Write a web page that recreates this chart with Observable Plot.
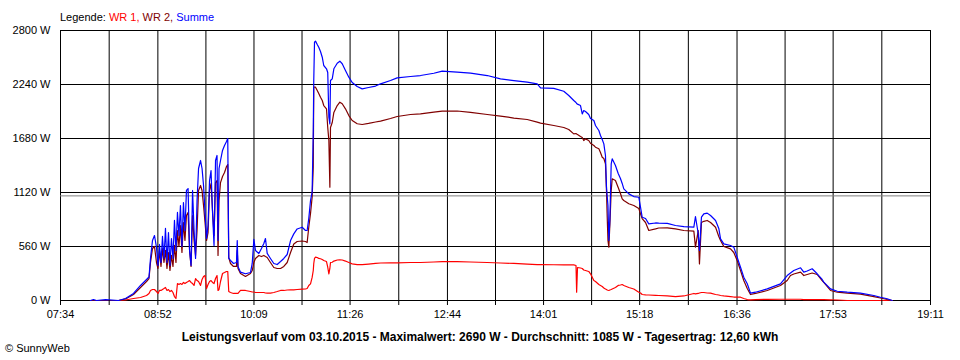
<!DOCTYPE html>
<html><head><meta charset="utf-8">
<script src="https://cdn.jsdelivr.net/npm/d3@7"></script>
<script src="https://cdn.jsdelivr.net/npm/@observablehq/plot@0.6"></script>
<style>
body{margin:0;background:#fff;}
#wrap{width:960px;height:360px;position:relative;overflow:hidden;font-family:Arial,"Liberation Sans",sans-serif;font-size:11px;color:#000;}
#legend{position:absolute;left:60px;top:11px;line-height:13px;white-space:nowrap;}
#chart{position:absolute;left:0;top:24px;}
#title{position:absolute;left:0;width:960px;text-align:center;top:330px;line-height:14px;font-size:12px;font-weight:bold;white-space:nowrap;}
#copy{position:absolute;left:5px;top:342px;line-height:13px;white-space:nowrap;}
</style></head><body>
<div id="wrap">
  <div id="legend"></div>
  <div id="chart"></div>
  <div id="title"></div>
  <div id="copy"></div>
</div>
<script>
const legendLabel = "Legende:";
const seriesNames = ["WR 1", "WR 2", "Summe"];
const seriesColors = ["#ff0000", "#800000", "#0000ff"];
const timeLabels = ["07:34","08:52","10:09","11:26","12:44","14:01","15:18","16:36","17:53","19:11"];
const yTicks = [0, 560, 1120, 1680, 2240, 2800];
const average = 1085;
const titleText = "Leistungsverlauf vom 03.10.2015 - Maximalwert: 2690 W - Durchschnitt: 1085 W - Tagesertrag: 12,60 kWh";
const copyText = "\u00a9 SunnyWeb";

// time in minutes since midnight
const times = [478.0,480.4,482.8,490.1,500.5,506.1,512.5,518.1,522.9,524.9,
526.1,527.7,529.3,530.9,532.1,533.3,534.5,535.7,536.9,538.1,
539.3,540.5,541.7,542.9,544.1,545.3,546.5,547.7,548.9,550.1,
551.3,552.5,553.7,554.9,556.2,557.4,558.6,559.8,561.0,562.2,
563.4,564.6,566.2,567.4,568.6,569.8,571.0,572.2,573.4,574.6,
575.8,577.0,578.2,579.4,580.2,581.0,582.2,583.8,585.4,587.0,
588.0,588.8,590.2,592.6,595.0,595.6,596.2,598.2,602.2,606.2,
607.6,608.9,610.2,612.9,615.0,616.9,618.2,619.6,622.2,624.9,
627.6,630.3,632.9,635.6,638.3,640.9,643.6,647.6,650.3,651.6,
652.9,654.3,655.6,656.5,656.9,657.5,658.3,659.7,660.9,662.3,
663.7,664.9,667.1,668.1,669.0,669.8,670.3,671.7,673.0,675.7,
677.8,679.7,682.3,685.0,687.7,691.7,695.7,700.8,706.4,710.4,
718.4,723.7,734.4,742.4,753.1,759.8,771.8,782.5,795.9,806.5,
817.2,827.9,835.9,838.6,849.2,857.2,861.2,865.2,867.0,867.5,
868.2,870.6,872.0,873.2,874.6,877.2,878.6,881.3,882.6,885.3,
886.6,888.0,889.3,890.6,891.4,892.0,892.6,893.3,894.1,895.2,
896.0,898.6,900.8,902.6,904.0,905.3,909.3,913.3,917.3,918.7,
920.0,922.7,925.3,930.7,933.3,940.1,946.7,953.4,961.4,962.7,
964.9,965.9,967.5,969.4,972.1,974.8,978.8,981.4,982.8,985.4,
990.8,993.4,996.1,998.8,1001.4,1004.2,1006.8,1010.8,1020.2,1030.8,
1036.2,1038.8,1041.5,1046.9,1049.5,1052.2,1056.2,1060.2,1064.2,1065.5,
1070.9,1076.3,1084.3,1094.9,1105.6,1110.9,1116.3,1120.3];

const wr1 = [0,0,0,0,0,5,21,31,52,73,
104,114,114,93,73,104,104,114,124,135,
104,114,93,104,83,41,21,176,166,176,
166,187,176,187,197,207,187,176,156,228,
207,197,156,218,249,259,124,166,197,207,
187,176,228,259,104,114,197,280,290,301,
301,93,83,73,73,73,73,104,104,93,
88,88,83,83,83,83,78,76,76,83,
93,104,104,109,111,111,114,117,119,124,
156,173,239,311,384,436,449,446,436,433,
425,415,404,345,277,332,394,397,409,420,
422,420,409,394,380,373,373,378,384,389,
391,391,394,394,399,404,404,399,394,389,
384,378,373,373,371,370,370,370,363,86,
342,337,332,316,311,301,277,207,197,166,
156,145,130,119,114,109,106,104,109,114,
119,135,156,161,166,156,135,119,86,78,
62,59,57,54,52,47,41,47,73,69,
73,78,83,83,78,76,62,57,52,47,
41,36,36,34,21,10,7,10,12,13,
13,13,13,13,10,10,10,10,10,10,
7,5,0,0,0,0,0,0];

const wr2 = [0,0,0,0,0,16,62,135,197,228,
394,539,560,394,332,519,353,539,394,519,
332,498,311,467,353,571,394,726,560,778,
498,809,622,881,913,519,353,881,622,467,
726,1141,1193,1141,985,809,622,705,1141,1213,
933,674,1223,1244,467,1037,1223,1286,1327,1390,
1410,446,384,353,353,519,332,280,249,280,
311,394,436,467,456,467,456,446,394,342,
332,332,353,394,498,586,612,617,612,601,
760,902,1072,1382,2212,2212,2212,2178,2147,2108,
2074,2022,1988,1794,1659,1175,1794,1846,1950,2022,
2057,2040,1988,1918,1867,1833,1825,1836,1851,1860,
1887,1908,1929,1936,1953,1963,1965,1950,1929,1913,
1892,1877,1849,1840,1815,1794,1773,1728,1732,1727,
1722,1701,1690,1659,1676,1659,1631,1607,1590,1573,
1535,1486,1473,1418,1141,864,622,553,778,1141,
1262,1244,1172,1110,1054,1037,1003,985,954,898,
850,809,726,743,752,754,742,726,719,553,
726,380,809,821,830,809,760,664,622,560,
536,498,415,311,207,124,62,73,104,156,
207,259,275,294,259,270,285,270,207,187,
104,86,76,67,41,26,10,0];

const summe = [0,10,0,10,0,21,73,156,218,244,
436,622,674,550,363,581,394,664,436,747,
394,705,363,643,436,830,519,913,674,985,
560,1016,726,1141,1161,519,363,1141,726,436,
1037,1369,1452,1369,1193,913,643,778,1244,1348,
913,570,1452,1504,622,1369,1452,1556,1607,1649,
1680,436,415,384,394,622,353,294,277,290,
384,633,519,488,539,591,643,488,436,384,
373,404,436,477,622,691,742,760,726,726,
850,1037,1124,1763,2281,2678,2690,2655,2627,2582,
2523,2437,2403,2364,1901,1832,2281,2299,2403,2461,
2482,2455,2385,2316,2261,2219,2195,2209,2224,2247,
2281,2309,2323,2333,2357,2378,2368,2357,2333,2298,
2281,2264,2247,2205,2200,2170,2126,2074,2053,2043,
2036,2022,1935,1970,1960,1929,1887,1867,1815,1763,
1711,1669,1624,1504,1182,1078,985,622,830,1418,
1469,1400,1317,1265,1214,1158,1106,1078,1071,967,
864,850,795,804,802,799,778,767,760,871,
695,519,864,899,906,881,830,747,639,588,
570,553,449,345,242,173,76,86,121,173,
259,285,311,339,294,306,329,277,218,190,
121,96,86,76,52,34,18,0];

// header / footer text
const legend = document.getElementById("legend");
legend.append(legendLabel + " ");
seriesNames.forEach((n, i) => {
  const s = document.createElement("span");
  s.style.color = seriesColors[i];
  s.textContent = n + (i < seriesNames.length - 1 ? ", " : "");
  legend.append(s);
});
document.getElementById("title").textContent = titleText;
document.getElementById("copy").textContent = copyText;

const toMin = s => { const [h, m] = s.split(":").map(Number); return h * 60 + m; };
const labelMinutes = timeLabels.map(toMin);
const labelByMinute = new Map(labelMinutes.map((t, i) => [t, timeLabels[i]]));
const gridMinutes = labelMinutes.flatMap((t, i) => i < labelMinutes.length - 1 ? [t, (t + labelMinutes[i + 1]) / 2] : [t]);

const rows = times.map((t, i) => ({t, wr1: wr1[i], wr2: wr2[i], summe: summe[i]}));
const keys = ["wr1", "wr2", "summe"];

const chart = Plot.plot({
  width: 960,
  height: 302,
  marginLeft: 60,
  marginRight: 30,
  marginTop: 6,
  marginBottom: 26,
  style: {fontFamily: "Arial, 'Liberation Sans', sans-serif", fontSize: "11px", color: "#000", background: "transparent"},
  x: {domain: [labelMinutes[0], labelMinutes[labelMinutes.length - 1]], label: null},
  y: {domain: [yTicks[0], yTicks[yTicks.length - 1]], label: null},
  marks: [
    Plot.ruleX(gridMinutes, {stroke: "#000", strokeWidth: 1}),
    Plot.ruleY(yTicks, {stroke: "#000", strokeWidth: 1}),
    Plot.ruleY([average], {stroke: "#808080", strokeWidth: 1}),
    ...keys.map((k, i) => Plot.line(rows, {x: "t", y: k, stroke: seriesColors[i], strokeWidth: 1.2})),
    Plot.axisX(gridMinutes, {tickSize: 5, tickPadding: 5, label: null, tickFormat: d => labelByMinute.get(d) ?? "", fontSize: 11}),
    Plot.axisY(yTicks, {tickSize: 0, tickPadding: 10, label: null, tickFormat: d => d + " W", fontSize: 11})
  ]
});
document.getElementById("chart").append(chart);
</script>
</body></html>
